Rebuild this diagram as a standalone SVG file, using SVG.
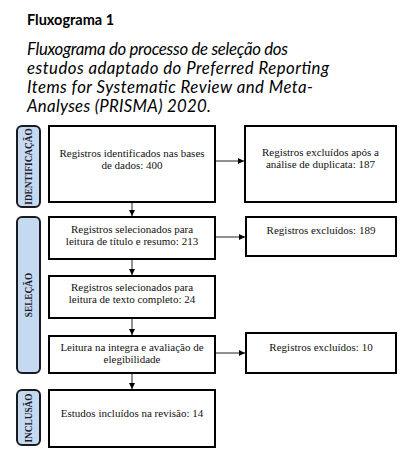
<svg xmlns="http://www.w3.org/2000/svg" width="407" height="463" viewBox="0 0 407 463">
<style>
.t{font-family:"Liberation Serif","Times New Roman",serif;font-size:11px;fill:#111;text-anchor:middle}
.lab{font-family:"Liberation Serif","Times New Roman",serif;font-size:9.3px;font-weight:bold;fill:#1a1a2a;text-anchor:middle}
.box{fill:#fff;stroke:#000;stroke-width:2}
.side{fill:#c5d9f1;stroke:#1a1a22;stroke-width:2}
.ttl{font-family:Lato,"Liberation Sans",Arial,sans-serif;fill:#000}
.it{font-style:italic;font-size:16.8px}
.con{stroke:#222;stroke-width:1;fill:none;marker-end:url(#ah)}
</style>
<defs>
<marker id="ah" viewBox="0 0 10 10" refX="10" refY="5" markerWidth="6" markerHeight="6" markerUnits="userSpaceOnUse" orient="auto">
<path d="M0,0 L10,5 L0,10 z" fill="#000"/>
</marker>
</defs>
<rect width="407" height="463" fill="#fff"/>
<g id="title">
<text class="ttl" x="27" y="25" font-size="14.5" font-weight="bold">Fluxograma 1</text>
<text class="ttl it" x="27" y="55" textLength="261" lengthAdjust="spacing">Fluxograma do processo de seleção dos</text>
<text class="ttl it" x="27" y="74" textLength="302" lengthAdjust="spacing">estudos adaptado do Preferred Reporting</text>
<text class="ttl it" x="27" y="93" textLength="286" lengthAdjust="spacing">Items for Systematic Review and Meta-</text>
<text class="ttl it" x="27" y="112" textLength="184" lengthAdjust="spacing">Analyses (PRISMA) 2020.</text>
</g>
<g id="label-identificacao">
<rect class="side" x="17" y="126" width="23" height="81" rx="5"/>
<text class="lab" transform="translate(31.5,166.5) rotate(-90)">IDENTIFICAÇÃO</text>
</g>
<g id="label-selecao">
<rect class="side" x="17" y="217" width="23" height="156" rx="5"/>
<text class="lab" transform="translate(31.5,295) rotate(-90)">SELEÇÃO</text>
</g>
<g id="label-inclusao">
<rect class="side" x="17" y="390" width="23" height="55" rx="5"/>
<text class="lab" transform="translate(31.5,418) rotate(-90)">INCLUSÃO</text>
</g>
<g id="box1">
<rect class="box" x="49" y="126" width="166" height="76"/>
<text class="t"><tspan x="132" y="157">Registros identificados nas bases</tspan><tspan x="132" y="169">de dados: 400</tspan></text>
</g>
<g id="rbox1">
<rect class="box" x="245" y="126" width="151" height="76"/>
<text class="t"><tspan x="320.5" y="156">Registros excluídos após a</tspan><tspan x="320.5" y="168">análise de duplicata: 187</tspan></text>
</g>
<g id="box2">
<rect class="box" x="49" y="217" width="166" height="42"/>
<text class="t"><tspan x="132" y="233">Registros selecionados para</tspan><tspan x="132" y="245">leitura de título e resumo: 213</tspan></text>
</g>
<g id="rbox2">
<rect class="box" x="246" y="217" width="150" height="39"/>
<text class="t" x="321" y="234">Registros excluídos: 189</text>
</g>
<g id="box3">
<rect class="box" x="49" y="276" width="166" height="42"/>
<text class="t"><tspan x="132" y="291">Registros selecionados para</tspan><tspan x="132" y="303">leitura de texto completo: 24</tspan></text>
</g>
<g id="box4">
<rect class="box" x="49" y="336" width="166" height="37"/>
<text class="t"><tspan x="132" y="351">Leitura na integra e avaliação de</tspan><tspan x="132" y="363">elegibilidade</tspan></text>
</g>
<g id="rbox3">
<rect class="box" x="246" y="333" width="150" height="40"/>
<text class="t" x="321" y="351">Registros excluídos: 10</text>
</g>
<g id="box5">
<rect class="box" x="49" y="390" width="166" height="57"/>
<text class="t" x="132" y="417">Estudos incluídos na revisão: 14</text>
</g>
<g id="connectors">
<line class="con" x1="216" y1="161" x2="244" y2="161"/>
<line class="con" x1="216" y1="237" x2="245" y2="237"/>
<line class="con" x1="216" y1="353" x2="245" y2="353"/>
<line class="con" x1="132" y1="203" x2="132" y2="216"/>
<line class="con" x1="132" y1="260" x2="132" y2="275"/>
<line class="con" x1="132" y1="319" x2="132" y2="335"/>
<line class="con" x1="132" y1="374" x2="132" y2="389"/>
</g>
</svg>
